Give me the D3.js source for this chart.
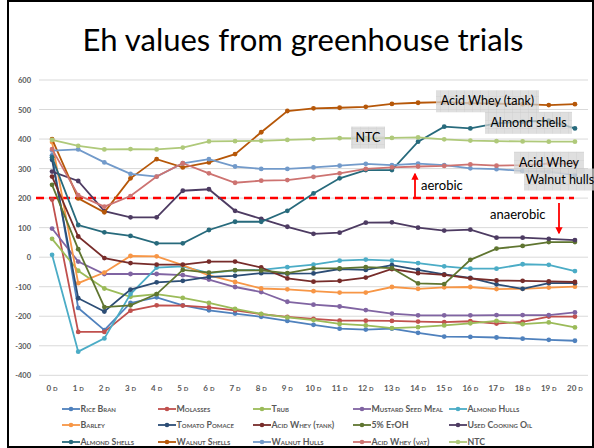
<!DOCTYPE html>
<html>
<head>
<meta charset="utf-8">
<script src="https://cdn.jsdelivr.net/npm/d3@7"></script>
<style>
  body { margin: 0; background: #fff; }
  svg { display: block; font-family: Lato, "Liberation Sans", sans-serif; }
</style>
</head>
<body>
<svg></svg>
<script>
const days = d3.range(0, 21).map(String);
const yTicks = [-400, -300, -200, -100, 0, 100, 200, 300, 400, 500, 600];

const riceBran      = [345, -172, -247, -155, -136, -163, -180, -191, -202, -216, -229, -242, -245, -242, -256, -269, -270, -272, -276, -280, -283];
const molasses      = [195, -253, -253, -181, -163, -164, -170, -180, -193, -202, -209, -215, -215, -216, -218, -220, -217, -225, -219, -201, -201];
const trub          = [62, -46, -106, -134, -125, -138, -155, -175, -192, -204, -213, -226, -231, -240, -237, -231, -224, -216, -227, -221, -238];
const mustardSeed   = [97, -15, -57, -57, -57, -61, -76, -101, -118, -151, -161, -167, -179, -191, -197, -197, -197, -196, -196, -196, -187];
const almondHulls   = [8, -320, -275, -125, -35, -31, -54, -45, -43, -34, -25, -12, -8, -12, -20, -31, -39, -39, -24, -26, -47];
const barley        = [390, -88, -52, 4, 3, -27, -62, -84, -106, -109, -115, -120, -120, -101, -107, -102, -101, -108, -107, -103, -100];
const tomatoPomace  = [330, -139, -184, -110, -85, -80, -67, -63, -54, -56, -55, -40, -43, -27, -43, -58, -70, -92, -107, -88, -88];
const acidWheyTank  = [273, 70, -3, -20, -25, -25, -15, -15, -35, -72, -83, -80, -69, -40, -54, -60, -72, -79, -80, -82, -84];
const etoh          = [245, 27, -169, -163, -125, -43, -52, -44, -45, -54, -38, -38, -34, -37, -89, -91, -9, 29, 38, 51, 51];
const cookingOil    = [290, 258, 156, 135, 135, 225, 230, 157, 130, 103, 79, 83, 117, 118, 100, 90, 93, 66, 66, 62, 58];
const almondShells  = [338, 109, 84, 72, 47, 47, 92, 120, 120, 157, 216, 267, 295, 295, 391, 442, 436, 453, 459, 462, 436];
const walnutShells  = [400, 199, 152, 267, 332, 304, 321, 349, 423, 495, 504, 506, 509, 519, 523, 525, 522, 520, 518, 515, 518];
const walnutHulls   = [361, 365, 321, 282, 273, 318, 332, 307, 299, 299, 304, 310, 316, 312, 317, 312, 301, 298, 292, 290, 278];
const acidWheyVat   = [366, 210, 171, 207, 273, 318, 284, 252, 259, 261, 272, 284, 299, 304, 307, 309, 314, 310, 312, 317, 318];
const ntc           = [397, 377, 365, 366, 365, 371, 392, 393, 394, 397, 400, 403, 402, 404, 406, 399, 395, 393, 392, 391, 391];

const seriesNames = ["Rice Bran", "Molasses", "Trub", "Mustard Seed Meal", "Almond Hulls",
  "Barley", "Tomato Pomace", "Acid Whey (tank)", "5% EtOH", "Used Cooking Oil",
  "Almond Shells", "Walnut Shells", "Walnut Hulls", "Acid Whey (vat)", "NTC"];
const seriesValues = [riceBran, molasses, trub, mustardSeed, almondHulls,
  barley, tomatoPomace, acidWheyTank, etoh, cookingOil,
  almondShells, walnutShells, walnutHulls, acidWheyVat, ntc];
const colors = ["#4F81BD", "#C0504D", "#9BBB59", "#8064A2", "#4BACC6",
  "#F79646", "#2C4D75", "#772C2A", "#5F7530", "#4D3B62",
  "#276A7C", "#B65708", "#729ACA", "#CD7371", "#AFC97A"];

const threshold = 200;
const calloutTexts = ["NTC", "Acid Whey (tank)", "Almond shells", "Acid Whey", "Walnut hulls"];
const calloutValues = [405, 528, 455, 320, 263];

const width = 594, height = 448;
const svg = d3.select("svg").attr("width", width).attr("height", height);

const x = d3.scaleBand().domain(days).range([39, 588]);
const y = d3.scaleLinear().domain([-400, 600]).range([375.3, 80]);
const cx = d => x(d) + x.bandwidth() / 2;

// hatch pattern for the callout boxes
const defs = svg.append("defs");
const pat = defs.append("pattern").attr("id", "hatch")
  .attr("width", 8).attr("height", 8).attr("patternUnits", "userSpaceOnUse");
pat.append("rect").attr("width", 8).attr("height", 8).attr("fill", "#d4d4d4");
pat.append("path").attr("d", "M0,0.5H8M0.5,0V8").attr("stroke", "#c4c4c4").attr("stroke-width", 0.6);

// frame
svg.append("rect").attr("x", 8).attr("y", 1).attr("width", 585).attr("height", 446)
  .attr("fill", "none").attr("stroke", "#000").attr("stroke-width", 2);

svg.append("text")
  .attr("x", 303).attr("y", 51)
  .attr("text-anchor", "middle")
  .attr("font-size", 31)
  .attr("fill", "#000")
  .text("Eh values from greenhouse trials");

// grid
svg.append("g").selectAll("line").data(yTicks).join("line")
  .attr("x1", 39).attr("x2", 588)
  .attr("y1", d => y(d)).attr("y2", d => y(d))
  .attr("stroke", "#d9d9d9").attr("stroke-width", 1);

// y labels
svg.append("g").selectAll("text").data(yTicks).join("text")
  .attr("x", 31).attr("y", d => y(d) + 3)
  .attr("text-anchor", "end")
  .attr("font-size", 7.5).attr("font-weight", "bold").attr("fill", "#595959")
  .text(d => d);

// x labels
const xl = svg.append("g").selectAll("text").data(days).join("text")
  .attr("x", d => cx(d)).attr("y", 391)
  .attr("text-anchor", "middle")
  .attr("font-weight", "bold").attr("fill", "#595959");
xl.append("tspan").attr("font-size", 8).text(d => d + " ");
xl.append("tspan").attr("font-size", 6).text("D");

// threshold line
svg.append("line")
  .attr("x1", 36).attr("x2", 574)
  .attr("y1", y(threshold)).attr("y2", y(threshold))
  .attr("stroke", "#ff0000").attr("stroke-width", 2.5)
  .attr("stroke-dasharray", "8,5");

// series
const line = d3.line().x((d, i) => cx(days[i])).y(d => y(d));
seriesValues.forEach((vals, k) => {
  const g = svg.append("g");
  g.append("path").datum(vals)
    .attr("d", line).attr("fill", "none")
    .attr("stroke", colors[k]).attr("stroke-width", 1.8);
  g.selectAll("circle").data(vals).join("circle")
    .attr("cx", (d, i) => cx(days[i])).attr("cy", d => y(d))
    .attr("r", 2.4).attr("fill", colors[k]);
});

// arrows
defs.append("marker").attr("id", "arr")
  .attr("viewBox", "0 0 10 10").attr("refX", 8).attr("refY", 5)
  .attr("markerWidth", 4).attr("markerHeight", 4).attr("orient", "auto")
  .append("path").attr("d", "M0,0L10,5L0,10z").attr("fill", "#ff0000");

svg.append("line")
  .attr("x1", 415).attr("x2", 415)
  .attr("y1", y(threshold) + 1).attr("y2", 174)
  .attr("stroke", "#ff0000").attr("stroke-width", 1.8).attr("marker-end", "url(#arr)");
svg.append("text").attr("x", 421).attr("y", 190)
  .attr("font-size", 13).attr("fill", "#000").text("aerobic");

svg.append("line")
  .attr("x1", 559).attr("x2", 559)
  .attr("y1", 203).attr("y2", 233)
  .attr("stroke", "#ff0000").attr("stroke-width", 1.8).attr("marker-end", "url(#arr)");
svg.append("text").attr("x", 490).attr("y", 219)
  .attr("font-size", 13).attr("fill", "#000").text("anaerobic");

// callouts (box left edges and widths fitted to the reference)
const boxLeft = [351, 436, 485, 514, 524];
const boxWidth = [34, 103, 87, 70, 72];
calloutTexts.forEach((t, i) => {
  const top = y(calloutValues[i]) - 11;
  const g = svg.append("g");
  g.append("rect").attr("x", boxLeft[i]).attr("y", top)
    .attr("width", boxWidth[i]).attr("height", 22)
    .attr("fill", "url(#hatch)").attr("opacity", 0.75);
  g.append("text").attr("x", boxLeft[i] + boxWidth[i] / 2).attr("y", top + 15)
    .attr("text-anchor", "middle").attr("font-size", 12.5).attr("fill", "#000")
    .text(t);
});

// legend
const legendRows = [[0, 1, 2, 3, 4], [5, 6, 7, 8, 9], [10, 11, 12, 13, 14]];
const legendCols = [62, 158, 253, 353, 449];
const legendRowY = [409, 425, 442];
legendRows.forEach((row, r) => {
  row.forEach((k, c) => {
    const lx = legendCols[c], ly = legendRowY[r];
    const g = svg.append("g");
    g.append("line").attr("x1", lx).attr("x2", lx + 18).attr("y1", ly).attr("y2", ly)
      .attr("stroke", colors[k]).attr("stroke-width", 1.8);
    g.append("circle").attr("cx", lx + 9).attr("cy", ly).attr("r", 2.3).attr("fill", colors[k]);
    g.append("text").attr("x", lx + 18.5).attr("y", ly + 3.2)
      .attr("font-size", 8.8).attr("font-weight", "bold").attr("fill", "#595959")
      .style("font-variant", "small-caps")
      .text(seriesNames[k]);
  });
});
</script>
</body>
</html>
